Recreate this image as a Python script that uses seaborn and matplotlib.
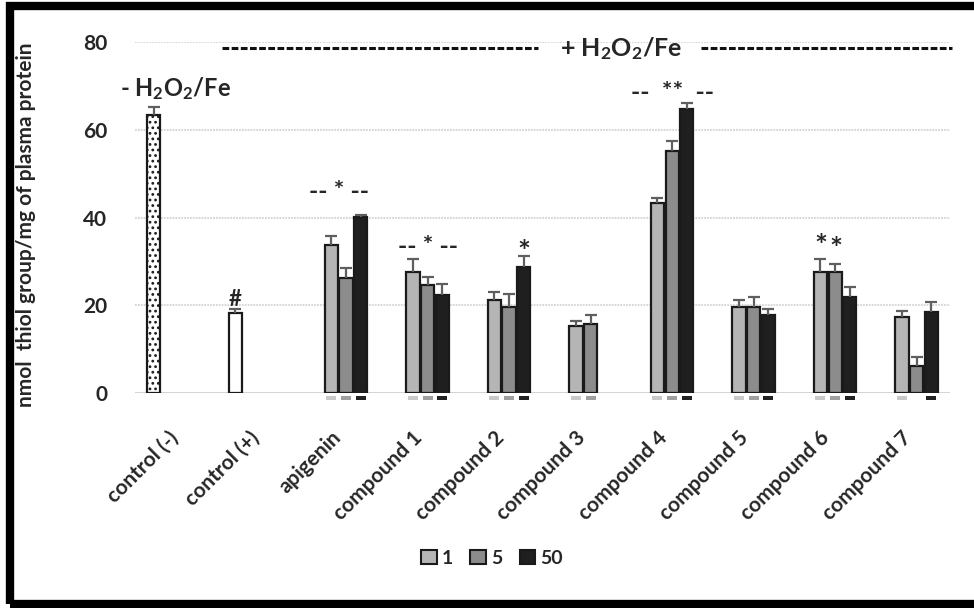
import numpy as np
import pandas as pd
import matplotlib
matplotlib.use("Agg")
import matplotlib.pyplot as plt
import matplotlib.transforms as mtransforms
from matplotlib.patches import Rectangle, Patch
import seaborn as sns

# values
categories = ["control (-)", "control (+)", "apigenin", "compound 1", "compound 2",
              "compound 3", "compound 4", "compound 5", "compound 6", "compound 7"]
control_names = ["control (-)", "control (+)"]
control_vals = [63.3, 18.2]
control_err = [1.8, 1.0]

compound_names = categories[2:]
conc_levels = ["1", "5", "50"]
vals_1 = [33.7, 27.6, 21.2, 15.3, 43.3, 19.6, 27.6, 17.3]
err_1 = [2.0, 3.0, 1.8, 1.1, 1.1, 1.6, 2.9, 1.4]
vals_5 = [26.2, 24.6, 19.6, 15.7, 55.1, 19.6, 27.6, 6.2]
err_5 = [2.2, 1.8, 2.9, 2.0, 2.3, 2.3, 1.8, 2.0]
vals_50 = [40.1, 22.3, 28.7, np.nan, 64.7, 17.8, 21.9, 18.5]
err_50 = [0.5, 2.5, 2.5, np.nan, 1.4, 1.3, 2.2, 2.2]

rows = []
for n, v, e in zip(control_names, control_vals, control_err):
    rows.append({"sample": n, "group": "ctrl", "value": v, "err": e})
for lvl, vals, errs in zip(conc_levels, [vals_1, vals_5, vals_50], [err_1, err_5, err_50]):
    for n, v, e in zip(compound_names, vals, errs):
        if not np.isnan(v):
            rows.append({"sample": n, "group": lvl, "value": v, "err": e})
df = pd.DataFrame(rows)

hue_order = ["ctrl", "1", "5", "50"]
palette = {"ctrl": "white", "1": "#b5b5b5", "5": "#8c8c8c", "50": "#1f1f1f"}
dash_colors = {"1": "#c9c9c9", "5": "#a0a0a0", "50": "#222222"}

sns.set_style("white")
plt.rcParams["font.family"] = ["Lato", "DejaVu Sans"]
plt.rcParams["font.weight"] = "bold"
plt.rcParams["mathtext.fontset"] = "custom"
plt.rcParams["mathtext.rm"] = "Lato:bold"
plt.rcParams["mathtext.it"] = "Lato:bold"
plt.rcParams["mathtext.bf"] = "Lato:bold"
plt.rcParams["hatch.linewidth"] = 1.2

fig = plt.figure(figsize=(9.74, 6.08), dpi=100)
ax = fig.add_axes([0.1386, 0.3536, 0.8368, 0.5773])

sns.barplot(data=df, x="sample", y="value", hue="group", order=categories,
            hue_order=hue_order, palette=palette, width=0.72, gap=0.1,
            edgecolor="#1a1a1a", linewidth=1.6, errorbar=None, legend=False, ax=ax)

# error bars (plus only) and the small marks under the bars
for lvl, cont in zip(hue_order, ax.containers):
    sub = df[df["group"] == lvl].set_index("sample").reindex(
        [c for c in categories if c in set(df.loc[df["group"] == lvl, "sample"])])
    xs, ys, es = [], [], []
    for bar, (name, r) in zip(cont, sub.iterrows()):
        x = bar.get_x() + bar.get_width() / 2
        xs.append(x)
        ys.append(bar.get_height())
        es.append(r["err"])
        if name == "control (-)":
            bar.set_hatch("...")
            bar.set_facecolor("white")
        if lvl != "ctrl" and not (name == "compound 7" and lvl == "5"):
            ax.add_patch(Rectangle((bar.get_x() + bar.get_width() * 0.12, -1.7),
                                   bar.get_width() * 0.76, 1.0, facecolor=dash_colors[lvl],
                                   edgecolor="none", clip_on=False))
    eb = ax.errorbar(xs, ys, yerr=[np.zeros(len(es)), es], fmt="none", ecolor="#5f5f5f",
                     elinewidth=1.6, capsize=4, capthick=1.6)
    eb[1][0].set_visible(False)

ax.set_xlim(-0.5, 9.5)
ax.set_ylim(0, 80)
ax.set_yticks([0, 20, 40, 60, 80])
ax.yaxis.grid(True, color="#d4d4d4", linewidth=1.3, linestyle=(0, (1, 0.6)))
ax.set_axisbelow(True)
sns.despine(ax=ax, left=True, bottom=True, top=True, right=True)
ax.axhline(0, color="#d0d0d0", linewidth=1.3, zorder=0)

ax.tick_params(axis="y", length=0, pad=20, labelsize=15)
ax.tick_params(axis="x", length=0, pad=30, labelsize=15)
ax.set_xlabel("")
ax.set_ylabel("nmol  thiol group/mg of plasma protein", fontsize=15, fontweight="bold")
ax.yaxis.set_label_coords(-0.121, 0.48)
offset = mtransforms.ScaledTranslation(-0.01, 0, fig.dpi_scale_trans)
for lab in ax.get_xticklabels():
    lab.set_rotation(45)
    lab.set_ha("right")
    lab.set_va("center")
    lab.set_rotation_mode("anchor")
    lab.set_fontweight("bold")
    lab.set_transform(lab.get_transform() + offset)
for lab in ax.get_yticklabels():
    lab.set_fontweight("bold")

# treatment annotations
ax.plot([0.57, 4.45], [78.6, 78.6], color="#111111", lw=2.2, ls=(0, (2.2, 0.8)), clip_on=False)
ax.plot([6.45, 9.52], [78.6, 78.6], color="#111111", lw=2.2, ls=(0, (2.2, 0.8)), clip_on=False)
ax.text(5.47, 78.6, r"+ H$_2$O$_2$/Fe", ha="center", va="center", fontsize=18, clip_on=False)
ax.text(-0.69, 69.5, r"- H$_2$O$_2$/Fe", ha="left", va="center", fontsize=17, clip_on=False)

ax.text(0.73, 21.2, "#", ha="center", va="center", fontsize=16)
ax.text(2.0, 46.0, "-- * --", ha="center", va="center", fontsize=18)
ax.text(3.1, 33.5, "-- * --", ha="center", va="center", fontsize=18)
ax.text(4.27, 32.0, "*", ha="center", va="center", fontsize=22)
ax.text(6.1, 68.5, "--  **  --", ha="center", va="center", fontsize=18)
ax.text(7.91, 33.2, "*", ha="center", va="center", fontsize=22)
ax.text(8.1, 32.5, "*", ha="center", va="center", fontsize=22)

# legend
handles = [Patch(facecolor=palette[l], edgecolor="#1a1a1a", linewidth=1.5) for l in conc_levels]
fig.legend(handles, conc_levels, loc="center", bbox_to_anchor=(0.505, 0.082), ncol=3,
           frameon=False, handlelength=0.8, handleheight=0.8,
           handletextpad=0.25, columnspacing=0.9, prop={"weight": "bold", "size": 14})

# outer frame
fig.patches.append(Rectangle((0.0103, 0.0066), 1.2, 0.983, transform=fig.transFigure,
                             fill=False, edgecolor="black", linewidth=6))

fig.savefig("out.png", dpi=100)
